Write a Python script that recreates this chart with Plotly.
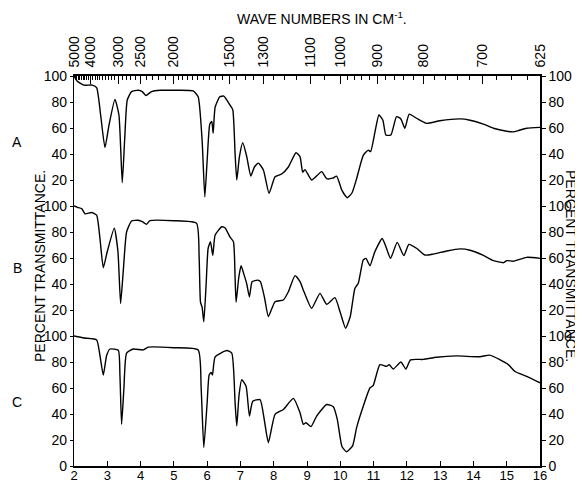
import plotly.graph_objects as go

# Wavelength (microns) and percent transmittance for the three spectra
A_x = [2.0, 2.1, 2.3, 2.55, 2.68, 2.8, 2.93, 3.05, 3.23, 3.35, 3.45, 3.52, 3.6, 3.73, 3.93, 4.05, 4.16, 4.33, 4.6, 5.0,
       5.58, 5.73, 5.85, 5.93, 6.0, 6.08, 6.14, 6.18, 6.24, 6.38, 6.5, 6.69, 6.77, 6.84, 6.89, 6.97, 7.07, 7.19, 7.31,
       7.42, 7.54, 7.69, 7.86, 8.04, 8.24, 8.44, 8.67, 8.79, 8.87, 8.94, 9.14, 9.44, 9.59, 9.77, 9.89, 10.05, 10.21,
       10.35, 10.49, 10.69, 10.84, 10.91, 11.05, 11.16, 11.28, 11.37, 11.52, 11.69, 11.82, 11.94, 12.07, 12.29, 12.59,
       12.99, 13.6, 13.9, 14.3, 14.6, 15.0, 15.2, 15.35, 15.6, 16.0]
A_y = [100, 96, 93, 93, 91, 70, 45, 62, 82, 70, 18, 50, 81.5, 88, 89, 88, 85, 88, 89, 89,
       88.5, 84, 50, 7, 35, 63, 65, 56, 76, 84, 84.5, 77.5, 74, 40, 20, 38, 48.7, 38, 23,
       30, 33, 27.7, 9.7, 22.5, 24.6, 30, 41, 38, 26, 28, 20, 26.4, 21, 21.4, 23, 12, 6.4,
       10, 21, 39, 43, 41.8, 58, 70, 66, 54.6, 54.6, 68.7, 67, 59.8, 70.7, 67.5, 63.6,
       65.6, 67, 66, 63, 59.8, 57.5, 57, 58, 59.8, 60.5]

B_x = [2.0, 2.1, 2.23, 2.33, 2.53, 2.68, 2.78, 2.88, 3.0, 3.21, 3.32, 3.40, 3.48, 3.58, 3.73, 3.93, 4.05, 4.18, 4.28,
       5.0, 5.68, 5.76, 5.8, 5.85, 5.9, 5.97, 6.03, 6.1, 6.17, 6.24, 6.44, 6.54, 6.69, 6.79, 6.84, 6.87, 6.95, 7.02,
       7.11, 7.19, 7.27, 7.35, 7.52, 7.6, 7.72, 7.84, 8.04, 8.29, 8.44, 8.64, 8.79, 8.91, 9.14, 9.39, 9.59, 9.84, 10.0,
       10.16, 10.3, 10.44, 10.54, 10.69, 10.77, 10.89, 11.04, 11.26, 11.38, 11.51, 11.71, 11.91, 12.06, 12.29, 12.54,
       12.79, 13.2, 13.6, 13.9, 14.3, 14.6, 14.9, 15.0, 15.2, 15.6, 16.0]
B_y = [100, 99, 98, 94, 95, 93, 75, 52.5, 65, 83, 65, 25, 50, 80, 88.5, 89, 88, 86, 88.7,
       88.7, 86.7, 60, 26, 22, 11, 40, 67.5, 72.5, 62, 77.7, 84, 83, 76, 72.5, 44.6, 26, 45, 54,
       47, 40, 30, 41.8, 43, 41.8, 30, 15, 26.4, 27.7, 34, 46.4, 41.8, 34, 21.3, 32.8, 24.4, 29.5, 18,
       6, 15, 36.7, 40.5, 58.5, 59.7, 54, 64.9, 75, 68, 59.7, 72, 61.8, 70.5, 67.5, 62.3,
       63, 65.4, 67, 66, 62, 58, 56.4, 58, 57.5, 60.5, 59.7]

C_x = [2.0, 2.3, 2.68, 2.78, 2.88, 2.98, 3.08, 3.33, 3.38, 3.43, 3.5, 3.58, 3.78, 4.08, 4.23, 5.0, 5.73, 5.82, 5.9,
       6.0, 6.06, 6.12, 6.16, 6.24, 6.59, 6.74, 6.84, 6.89, 6.96, 7.04, 7.17, 7.27, 7.37, 7.59, 7.72, 7.84, 8.04, 8.29,
       8.59, 8.79, 8.89, 8.97, 9.12, 9.29, 9.59, 9.79, 9.91, 10.05, 10.19, 10.37, 10.49, 10.69, 10.89, 10.99, 11.19,
       11.39, 11.47, 11.59, 11.82, 11.97, 12.11, 12.49, 12.89, 13.49, 14.19, 14.49, 14.8, 15.05, 15.25, 15.6, 16.0]
C_y = [100, 98.5, 97, 85, 70, 85, 90, 89, 70, 32, 60, 86.8, 90, 89.3, 91.4, 91, 89.3, 60, 14.3,
       48.6, 70, 72, 70, 84, 88.8, 86.8, 48.6, 30.8, 55, 66.4, 61.3, 38.4, 49.8, 51, 35, 18, 39.7, 43.5,
       52, 41, 32, 33.3, 30.3, 38.4, 47.3, 45.6, 35.9, 15, 11, 15.5, 29.5, 46, 60, 62, 78,
       76.6, 78, 74.6, 80, 74.6, 81.7, 82, 83.7, 84.7, 84, 85.3, 81.7, 78, 72.7, 69, 64]

spectra = [("A", A_x, A_y, 200), ("B", B_x, B_y, 100), ("C", C_x, C_y, 0)]

micron_ticks = list(range(2, 17))
wavenumber_ticks = [5000, 4000, 3000, 2500, 2000, 1500, 1300, 1100, 1000, 900, 800, 700, 625]
left_tick_text = ["0", "20", "40", "60", "80", "100", "20", "40", "60", "80", "100", "20", "40", "60", "80", "100"]
right_tick_text = ["0", "20", "40", "60", "80", "100", "20", "40", "60", "80", "100", "20", "40", "60", "80", "100"]

minor_wn = (list(range(4900, 2000, -100)) + list(range(1950, 1000, -50)) + list(range(980, 625, -20)))
minor_wn = [w for w in minor_wn if w not in wavenumber_ticks]

FONT = "Liberation Sans"
# page offset (browser body margin) compensation
OFF = 8
W, H = 583 - OFF, 486 - OFF
L, T = 74 - OFF, 76 - OFF
R = W - (540 - OFF)
B = H - (466 - OFF)
PW, PH = W - L - R, H - T - B


def px(xp):
    return (xp - OFF - L) / PW


def py(yp):
    return (H - B - (yp - OFF)) / PH


fig = go.Figure()
for name, xs, ys, off in spectra:
    fig.add_trace(go.Scatter(x=xs, y=[v + off for v in ys], mode="lines",
                             line=dict(color="black", width=1.4, shape="spline", smoothing=0.5),
                             showlegend=False, hoverinfo="skip"))
fig.add_trace(go.Scatter(x=[2, 16], y=[0, 0], xaxis="x2", yaxis="y2", mode="lines",
                         line=dict(width=0), showlegend=False, hoverinfo="skip"))

yvals = list(range(0, 301, 20))
fig.update_layout(
    width=W, height=H,
    margin=dict(l=L, r=R, t=T, b=B, autoexpand=False),
    paper_bgcolor="white", plot_bgcolor="white",
    font=dict(family=FONT, size=14, color="black"),
    xaxis=dict(range=[2, 16], tickvals=micron_ticks, ticks="inside", ticklen=5, tickcolor="black",
               showline=True, linecolor="black", linewidth=1.5, showgrid=False, zeroline=False,
               tickfont=dict(size=13), ticklabelstandoff=-3),
    xaxis2=dict(range=[2, 16], overlaying="x", side="top",
                tickvals=[10000 / w for w in wavenumber_ticks], ticktext=[str(w) for w in wavenumber_ticks],
                tickangle=-90, ticks="inside", ticklen=8, tickcolor="black",
                minor=dict(tickvals=[10000 / w for w in minor_wn], ticks="inside", ticklen=4, tickcolor="black"),
                showline=True, linecolor="black", linewidth=1.5, showgrid=False, zeroline=False,
                tickfont=dict(size=14), ticklabelstandoff=4),
    yaxis=dict(range=[0, 300], tickvals=yvals, ticktext=left_tick_text, ticks="outside", ticklen=3,
               tickcolor="black", showline=True, linecolor="black", linewidth=1.2, showgrid=False,
               zeroline=False, tickfont=dict(size=14), ticklabelstandoff=0),
    yaxis2=dict(range=[0, 300], overlaying="y", side="right", tickvals=yvals, ticktext=right_tick_text,
                ticks="outside", ticklen=4, tickcolor="black", showline=True, linecolor="black", linewidth=1.5,
                showgrid=False, zeroline=False, tickfont=dict(size=14), ticklabelstandoff=0),
)

fig.add_annotation(text="WAVE NUMBERS IN CM<sup>-1</sup>.", x=px(322), y=py(18), yanchor="middle",
                   xref="paper", yref="paper", showarrow=False, font=dict(size=14))
fig.add_annotation(text="PERCENT TRANSMITTANCE.", x=px(40), y=py(266), xanchor="center",
                   xref="paper", yref="paper", showarrow=False, textangle=-90, font=dict(size=14))
fig.add_annotation(text="PERCENT TRANSMITTANCE.", x=px(571), y=py(266), xanchor="center",
                   xref="paper", yref="paper", showarrow=False, textangle=90, font=dict(size=14))
for label, ypx in [("A", 142), ("B", 268), ("C", 402)]:
    fig.add_annotation(text=label, x=px(17), y=py(ypx), xanchor="center", yanchor="middle",
                       xref="paper", yref="paper", showarrow=False, font=dict(size=14))

fig.write_html("out.html")
